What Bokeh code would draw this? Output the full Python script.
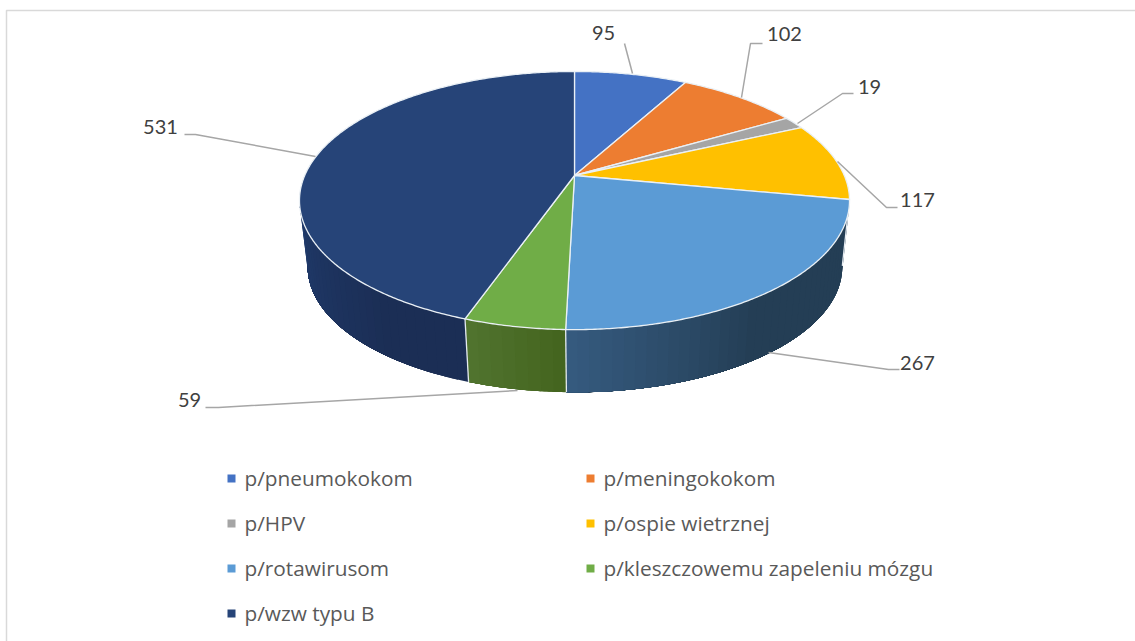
import math
from bokeh.plotting import figure
from bokeh.embed import file_html
from bokeh.resources import INLINE
from bokeh.core.properties import value

categories = ["p/pneumokokom", "p/meningokokom", "p/HPV", "p/ospie wietrznej",
              "p/rotawirusom", "p/kleszczowemu zapeleniu mózgu", "p/wzw typu B"]
values = [95, 102, 19, 117, 267, 59, 531]
colors = ["#4472C4", "#ED7D31", "#A5A5A5", "#FFC000", "#5B9BD5", "#70AD47", "#264478"]
side_far = ["#2A4578", "#8F4B1D", "#636363", "#997300", "#243E55", "#44651F", "#1B2E55"]
side_near = ["#2A4578", "#8F4B1D", "#636363", "#997300", "#365B80", "#527530", "#203B6C"]

FONT = "Lato"
LEGEND_FONT = "Open Sans"
W, H = 1135, 641
p = figure(width=W, height=H, x_range=(0, W), y_range=(H, 0), toolbar_location=None,
           output_backend="svg", min_border=0, outline_line_color=None,
           background_fill_color="white", border_fill_color="white")
p.axis.visible = False
p.grid.visible = False


def top_xy(t):
    u, v = math.sin(t), math.cos(t)
    d = 1 + 0.194 * v
    return 574 + 269.8 * u / d, 175 - 124.2 * v / d


def low_xy(t):
    x, y = top_xy(t)
    return 574.5 + (x - 574) * 0.972, 242 + (y - 175) * 0.972


def mix(a, b, f):
    f = max(0.0, min(1.0, f))
    ca = [int(a[i:i + 2], 16) for i in (1, 3, 5)]
    cb = [int(b[i:i + 2], 16) for i in (1, 3, 5)]
    return "#%02x%02x%02x" % tuple(round(x + (y - x) * f) for x, y in zip(ca, cb))


# frame
p.line([6, 6, W], [H, 10, 10], line_color="#D9D9D9", line_width=1.5)

total = sum(values)
edges = [0.0]
for v in values:
    edges.append(edges[-1] + v / total * 360)

# side wall: strips overlap by painting from right to left
VIS0, VIS1 = 100.5, 261.0
sx, sy, sc = [], [], []
for i in range(len(values)):
    a, b = max(edges[i], VIS0), min(edges[i + 1], VIS1)
    if b <= a:
        continue
    n = max(1, int((b - a) / 2))
    for k in range(n):
        t0 = a + (b - a) * k / n
        t1 = b
        ts = [math.radians(t0 + (t1 - t0) * j / 40) for j in range(41)]
        P = [top_xy(r) for r in ts] + [low_xy(r) for r in reversed(ts)]
        sx.append([q[0] for q in P])
        sy.append([q[1] for q in P])
        if i == 4:
            f = (t0 - 145) / 36
        elif i == 5:
            f = (t0 - edges[5]) / (edges[6] - edges[5])
        else:
            f = (t0 - 215) / 45
        sc.append(mix(side_far[i], side_near[i], f))
p.patches(sx, sy, fill_color=sc, line_color=None)

# separators on the wall
for e in edges:
    if VIS0 < e < VIS1:
        r = math.radians(e)
        a, b = top_xy(r), low_xy(r)
        p.line([a[0], b[0]], [a[1], b[1]], line_color="#E4EAF0", line_width=1.3)

# top face
tx, ty = [], []
for i in range(len(values)):
    a, b = edges[i], edges[i + 1]
    n = max(2, int((b - a) * 2))
    pts = [top_xy(math.radians(a + (b - a) * k / n)) for k in range(n + 1)]
    tx.append([574] + [q[0] for q in pts])
    ty.append([175] + [q[1] for q in pts])
p.patches(tx, ty, fill_color=colors, line_color="#EAF0F5", line_width=1.3, line_join="round")

# leaders
leader_x = [[624, 632], [762, 750, 741], [853, 842, 797], [837, 886, 897], [768, 888, 899], [205, 218, 517], [184, 195, 315]]
leader_y = [[43, 73], [43, 43, 97], [93, 93, 123], [161, 207, 207], [352, 369, 369], [407, 407, 390], [134, 134, 156]]
p.multi_line(leader_x, leader_y, line_color="#A6A6A6", line_width=1.5)

# value labels
label_x = [603, 784, 869, 917, 917, 189, 160]
label_y = [32.5, 33.5, 86.5, 199.5, 362.5, 399.5, 126.5]
p.text(label_x, label_y, text=[str(v) for v in values], text_font=value(FONT), text_font_size="20px",
       text_color="#404040", text_align="center", text_baseline="middle")

# legend
leg_x = [231, 590, 231, 590, 231, 590, 231]
leg_y = [478, 478, 523, 523, 568, 568, 613]
p.scatter(leg_x, leg_y, marker="square", size=8, fill_color=colors, line_color=None)
p.text([x + 13 for x in leg_x], [y - 0.5 for y in leg_y], text=categories, text_font=value(LEGEND_FONT),
       text_font_size="20.8px", text_color="#595959", text_align="left", text_baseline="middle")

open("out.html", "w").write(file_html(p, INLINE))
